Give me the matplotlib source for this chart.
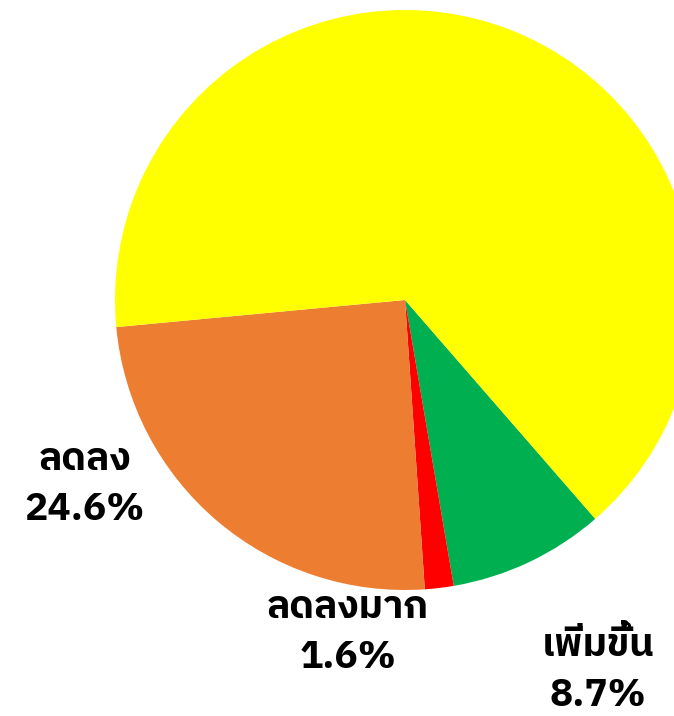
import numpy as np
import matplotlib
matplotlib.use("Agg")
import matplotlib.pyplot as plt
from matplotlib import font_manager
from matplotlib.ft2font import FT2Font

# เลือกฟอนต์ไทยตัวหนาที่มีในเครื่อง
prefer = ['Noto Sans Thai', 'Noto Sans Thai UI', 'IBM Plex Sans Thai', 'Bai Jamjuree', 'Sarabun']
thai_font = 'Noto Sans Thai'
for fam in prefer:
    ok = False
    for f in font_manager.fontManager.ttflist:
        if f.name != fam or f.style != 'normal':
            continue
        w = f.weight if isinstance(f.weight, int) else 400
        if w < 700:
            continue
        cm = FT2Font(f.fname).get_charmap()
        if 0x0E01 in cm and ord('%') in cm and ord('8') in cm:
            ok = True
            break
    if ok:
        thai_font = fam
        break

plt.rcParams['font.family'] = [thai_font, 'DejaVu Sans']

# ข้อมูลสัดส่วน
labels = ["เพิ่มขึ้น", "ลดลงมาก", "ลดลง", ""]
values = [8.7, 1.6, 24.6, 65.1]
colors = ["#00B050", "#FF0000", "#ED7D31", "#FFFF00"]
# ตำแหน่งป้าย (มุม องศา, ระยะเทียบรัศมี)
label_pos = [(-62.5, 1.44), (-99.7, 1.162), (-150.0, 1.275), None]

R = 290
fig = plt.figure(figsize=(6.74, 7.16), dpi=100)
ax = fig.add_axes([0, 0, 1, 1])
ax.pie(values, colors=colors, startangle=-49, counterclock=False,
       radius=R, center=(0, 0), wedgeprops=dict(linewidth=0))
ax.set_xlim(-405, 269)
ax.set_ylim(-416, 300)
ax.set_aspect('equal')
ax.axis('off')

for lab, v, pos in zip(labels, values, label_pos):
    if pos is None:
        continue
    a, d = pos
    x = R * d * np.cos(np.radians(a))
    y = R * d * np.sin(np.radians(a))
    ax.text(x, y, f"{lab}\n{v:.1f}%", ha='center', va='center',
            fontsize=28, fontweight='bold', linespacing=1.45)

fig.savefig("out.png", dpi=100)
